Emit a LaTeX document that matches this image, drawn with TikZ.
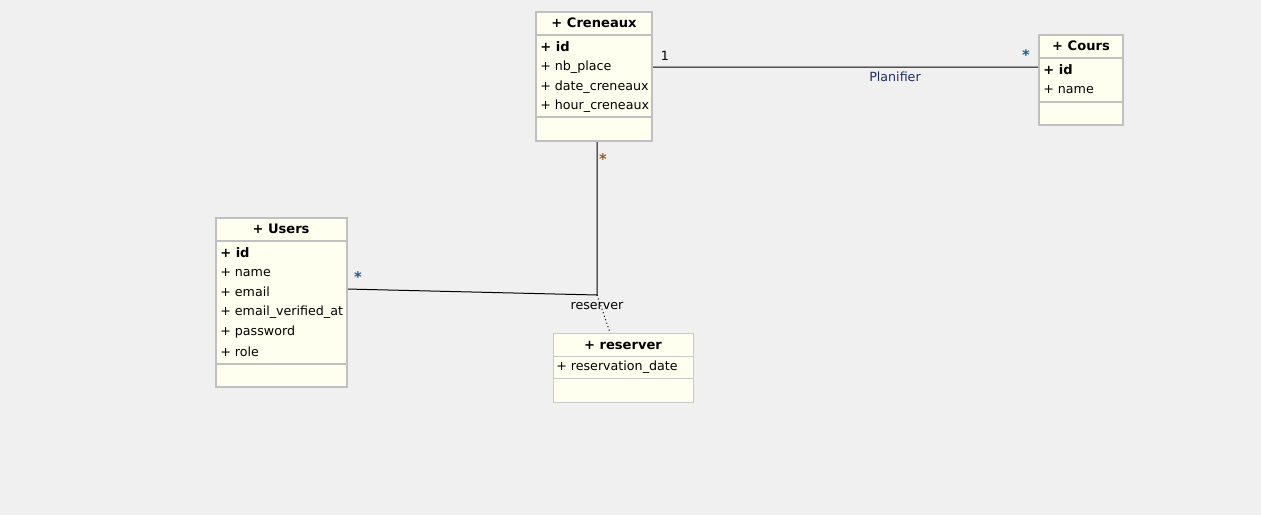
\documentclass[tikz,border=0pt]{standalone}
\usepackage{fontspec}
\setmainfont{DejaVu Sans}
\usetikzlibrary{fit}

\definecolor{bggray}{HTML}{F0F0F0}
\definecolor{classfill}{HTML}{FFFFF0}
\definecolor{boxgray}{HTML}{C0C0C0}
\definecolor{linkblue}{HTML}{1F2D5F}
\definecolor{starblue}{HTML}{1E5A9A}
\definecolor{starbrown}{HTML}{A0581A}

\begin{document}
\begin{tikzpicture}[x=0.75pt,y=-0.75pt,
    font=\fontsize{9.5}{11}\selectfont,
    classbox/.style={draw=boxgray, line width=1.5pt, fill=classfill, inner sep=0pt},
    thinbox/.style={draw=boxgray!85, line width=0.75pt, fill=classfill, inner sep=0pt},
    sep/.style={draw=boxgray, line width=1.5pt},
    title/.style={font=\fontsize{9.8}{11}\selectfont\bfseries, inner sep=0pt},
    attr/.style={anchor=west, inner sep=0pt},
    mult/.style={inner sep=0pt, font=\fontsize{11}{11}\selectfont\bfseries}]
    \fill[bggray] (0,0) rectangle (1261,515);

    % Creneaux
    \node[classbox, fit={(536,12) (652,141)}] (creneaux) {};
    \draw[sep] (536,35) -- (652,35);
    \draw[sep] (536,117) -- (652,117);
    \node[title] (creneaux-title) at (594,23) {+ Creneaux};
    \node[attr, font=\fontsize{9.8}{11}\selectfont\bfseries] (creneaux-id) at (540,47) {+ id};
    \node[attr] (creneaux-nb) at (540,67) {+ nb\_place};
    \node[attr] (creneaux-date) at (540,87) {+ date\_creneaux};
    \node[attr] (creneaux-hour) at (540,106) {+ hour\_creneaux};

    % Cours
    \node[classbox, fit={(1039,35) (1123,125)}] (cours) {};
    \draw[sep] (1039,58) -- (1123,58);
    \draw[sep] (1039,102) -- (1123,102);
    \node[title] (cours-title) at (1081,46) {+ Cours};
    \node[attr, font=\fontsize{9.8}{11}\selectfont\bfseries] (cours-id) at (1043,70) {+ id};
    \node[attr] (cours-name) at (1043,90) {+ name};

    % Users
    \node[classbox, fit={(216,218) (347,387)}] (users) {};
    \draw[sep] (216,241) -- (347,241);
    \draw[sep] (216,364) -- (347,364);
    \node[title] (users-title) at (281,229) {+ Users};
    \node[attr, font=\fontsize{9.8}{11}\selectfont\bfseries] (users-id) at (220,253) {+ id};
    \foreach \txt/\yy [count=\i] in {name/273, email/292, email\_verified\_at/312, password/332, role/352}
        \node[attr] (users-\i) at (220,\yy) {+ \txt};

    % reserver
    \node[thinbox, fit={(553,333) (693,402)}] (reserver) {};
    \draw[draw=boxgray!85, line width=0.75pt] (553,356) -- (693,356);
    \draw[draw=boxgray!85, line width=0.75pt] (553,378) -- (693,378);
    \node[title] (reserver-title) at (623,345) {+ reserver};
    \node[attr] (reserver-date) at (556,367) {+ reservation\_date};

    % Planifier
    \draw[line width=0.75pt] ([yshift=7.1pt]creneaux.east) -- ([yshift=9.75pt]cours.west);
    \node[text=linkblue, inner sep=0pt] (planifier) at (895,77) {Planifier};
    \node[inner sep=0pt] (mult-cr1) at (665,56) {1};
    \node[mult, text=starblue] (mult-co) at (1026,55) {*};

    % reserver association
    \coordinate (corner) at (597,295);
    \draw[line width=0.75pt] (corner |- creneaux.south) -- (corner) -- ([yshift=10.1pt]users.east);
    \draw[dotted, line width=0.75pt] (corner) -- ([xshift=-9.75pt]reserver.north);
    \node[inner sep=0pt] (reserver-label) at (597,306) {reserver};
    \node[mult, text=starbrown] (mult-cr2) at (603,159) {*};
    \node[mult, text=starblue] (mult-us) at (358,277) {*};
\end{tikzpicture}
\end{document}
